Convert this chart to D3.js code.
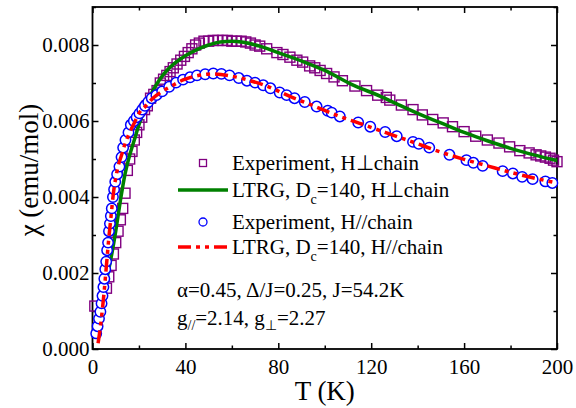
<!DOCTYPE html>
<html><head><meta charset="utf-8">
<script src="https://cdn.jsdelivr.net/npm/d3@7"></script>
<style>
html,body{margin:0;padding:0;background:#fff;}
</style>
</head><body>
<svg id="c" width="576" height="408" font-family="Liberation Serif"></svg>
<script>
// ---------- data ----------
const xTicks = [0, 40, 80, 120, 160, 200];
const xMinor = [20, 60, 100, 140, 180];
const yTicks = [0, 0.002, 0.004, 0.006, 0.008];
const yMinor = [0.001, 0.003, 0.005, 0.007, 0.009];

// Experiment, H⊥chain (squares)
const expPerp = [[1.0,0.00113],[6.0,0.0016],[7.0,0.0019],[8.0,0.0022],[9.0,0.0025],[10.0,0.0028],[11.0,0.0031],[12.0,0.0034],[13.0,0.0037],[14.0,0.0041],[15.0,0.0047],[16.0,0.0050],[17.0,0.0052],[18.0,0.0055],[19.0,0.0057],[20.0,0.0059],[21.2,0.0061],[22.4,0.0063],[23.6,0.0064],[25.0,0.0066],[26.4,0.0067],[27.8,0.0068],[29.2,0.0070],[30.6,0.0071],[32.0,0.0072],[33.4,0.0073],[34.8,0.0074],[36.4,0.0075],[38.0,0.0076],[39.6,0.0077],[41.2,0.0078],[42.8,0.0079],[44.4,0.0080],[46.0,0.00805],[48.0,0.0081],[50.0,0.0081],[52.0,0.00812],[54.0,0.00812],[56.0,0.00812],[58.0,0.00812],[60.0,0.0081],[62.0,0.0081],[64.0,0.0081],[66.0,0.00808],[68.0,0.00805],[70.0,0.0080],[72.0,0.00797],[75.0,0.0079],[79.4,0.0078],[82.0,0.00775],[85.0,0.00768],[88.0,0.0076],[90.5,0.00755],[93.5,0.00745],[95.7,0.0074],[98.0,0.00733],[100.8,0.00725],[104.0,0.00716],[107.6,0.00706],[113.0,0.00692],[118.0,0.0068],[122.8,0.00668],[126.5,0.00662],[128.0,0.00655],[133.0,0.00642],[138.0,0.0063],[142.0,0.00616],[146.5,0.00604],[151.0,0.00595],[155.0,0.00585],[160.0,0.00572],[165.0,0.0056],[170.0,0.0055],[175.0,0.00542],[179.6,0.00532],[184.0,0.00522],[188.0,0.00516],[191.0,0.00511],[193.0,0.00508],[195.0,0.00505],[197.0,0.00502],[198.5,0.00497],[200.0,0.00493]];

// LTRG, Dc=140, H⊥chain (green line)
const fitPerp = [[1,0.0003],[2,0.0006],[4,0.0012],[6,0.0018],[8,0.0024],[10,0.0031],[12,0.0039],[14,0.0046],[16,0.0051],[18,0.0055],[20,0.0059],[23,0.0064],[26,0.0068],[29,0.0071],[32,0.00733],[36,0.00755],[40,0.00772],[45,0.00788],[50,0.0080],[55,0.00808],[60,0.0081],[65,0.00807],[72,0.00797],[80,0.0078],[90,0.00758],[100,0.00733],[112,0.00695],[124,0.00665],[131,0.00645],[140,0.0062],[150,0.00595],[160,0.0057],[170,0.00548],[180,0.00528],[190,0.00511],[200,0.00496]];

// Experiment, H//chain (circles)
const expPar = [[1.6,0.00041],[2.2,0.0006],[2.8,0.0008],[3.4,0.00098],[3.9,0.0012],[4.3,0.0014],[4.7,0.00163],[5.1,0.00185],[5.5,0.0021],[5.9,0.0023],[6.3,0.0026],[6.7,0.0028],[7.1,0.0031],[7.5,0.0033],[7.9,0.0035],[8.3,0.0037],[8.8,0.0040],[9.3,0.0042],[9.8,0.0044],[10.6,0.0046],[11.6,0.0048],[12.5,0.00505],[13.2,0.0053],[14.2,0.0055],[15.5,0.0057],[16.5,0.0059],[17.8,0.0060],[19,0.0061],[20.2,0.0062],[21.4,0.0063],[22.6,0.0064],[24,0.0065],[25.5,0.0066],[27.5,0.00668],[30,0.00678],[33,0.0069],[36,0.00701],[39,0.00709],[42,0.00715],[45,0.0072],[48.5,0.00723],[52,0.00725],[55.5,0.00724],[59,0.0072],[63,0.00713],[66.5,0.00706],[70,0.00701],[73.5,0.00694],[76.6,0.00686],[80.6,0.00675],[83.6,0.00668],[87,0.0066],[91.4,0.0065],[96.5,0.00638],[101.3,0.00627],[103,0.00622],[106.5,0.00612],[114.4,0.00596],[119.6,0.00585],[126,0.00571],[131,0.0056],[138,0.00545],[140.5,0.0054],[145,0.0053],[153.7,0.00511],[161,0.00497],[164,0.0049],[168,0.00482],[176.6,0.00468],[181,0.00462],[185,0.00453],[189.5,0.00447],[195,0.00441],[198,0.00437]];

// LTRG, Dc=140, H//chain (red dash-dot line)
const fitPar = [[2.4,0.00015],[3,0.0004],[4,0.0009],[5,0.0015],[6,0.0022],[7,0.0029],[8,0.0035],[9,0.0041],[10,0.0045],[11,0.0048],[12.5,0.0051],[14,0.0054],[16,0.0057],[18,0.00595],[20,0.0062],[23,0.0064],[26,0.0066],[30,0.00678],[34,0.00692],[39,0.00708],[45,0.00719],[52,0.00724],[60,0.00718],[68,0.00706],[75,0.00692],[86,0.00662],[96,0.00638],[106,0.00613],[115,0.00594],[126,0.0057],[140,0.0054],[150,0.00518],[160,0.00499],[170,0.00482],[180,0.00465],[190,0.0045],[200,0.00437]];

const legendLabels = ["Experiment, H\u22A5chain", "LTRG, D|c|=140, H\u22A5chain", "Experiment, H//chain", "LTRG, D|c|=140, H//chain"];

// ---------- drawing ----------
const FAM = '"Liberation Serif"';
const svg = d3.select("#c");
const L = 92.5, R = 557, T = 7, B = 349;
const x = d3.scaleLinear().domain([0, 200]).range([L, R]);
const y = d3.scaleLinear().domain([0, 0.009]).range([B, T]);

const colPurple = "#800080", colGreen = "#008000", colBlue = "#0000ff", colRed = "#ff0000";
const dashRed = "13,5,4,5,4,5";

function axisG(axis, tr) {
  const g = svg.append("g").attr("transform", tr).call(axis);
  g.attr("font-family", "Liberation Serif").attr("font-size", 21);
  g.select(".domain").remove();
  g.selectAll("line").attr("stroke", "#000").attr("stroke-width", 1.5);
  return g;
}
const fmtY = d3.format(".3f");
axisG(d3.axisBottom(x).tickValues(xTicks).tickSize(-6).tickPadding(10).tickFormat(d3.format("d")), `translate(0,${B})`);
axisG(d3.axisBottom(x).tickValues(xMinor).tickSize(-3.5).tickFormat(""), `translate(0,${B})`);
axisG(d3.axisTop(x).tickValues(xTicks).tickSize(-6).tickFormat(""), `translate(0,${T})`);
axisG(d3.axisTop(x).tickValues(xMinor).tickSize(-3.5).tickFormat(""), `translate(0,${T})`);
axisG(d3.axisLeft(y).tickValues(yTicks).tickSize(-6).tickPadding(3).tickFormat(fmtY), `translate(${L},0)`);
axisG(d3.axisLeft(y).tickValues(yMinor).tickSize(-3.5).tickFormat(""), `translate(${L},0)`);
axisG(d3.axisRight(y).tickValues(yTicks).tickSize(-6).tickFormat(""), `translate(${R},0)`);
axisG(d3.axisRight(y).tickValues(yMinor).tickSize(-3.5).tickFormat(""), `translate(${R},0)`);
svg.selectAll(".tick text").style("font-family", FAM).attr("font-size", 21).attr("fill", "#000");

svg.append("rect").attr("x", L).attr("y", T).attr("width", R - L).attr("height", B - T)
  .attr("fill", "none").attr("stroke", "#000").attr("stroke-width", 1.8);

const line = d3.line().x(d => x(d[0])).y(d => y(d[1])).curve(d3.curveMonotoneX);
const plot = svg.append("g");

plot.selectAll("rect.sq").data(expPerp).join("rect").attr("class", "sq")
  .attr("x", d => x(d[0]) - 5).attr("y", d => y(d[1]) - 5).attr("width", 10).attr("height", 10)
  .attr("fill", "none").attr("stroke", colPurple).attr("stroke-width", 1.4);

plot.append("path").datum(fitPerp).attr("d", line).attr("fill", "none")
  .attr("stroke", colGreen).attr("stroke-width", 3.5);

plot.selectAll("circle.ci").data(expPar).join("circle").attr("class", "ci")
  .attr("cx", d => x(d[0])).attr("cy", d => y(d[1])).attr("r", 5.2)
  .attr("fill", "#fff").attr("stroke", colBlue).attr("stroke-width", 1.5);

plot.append("path").datum(fitPar).attr("d", line).attr("fill", "none")
  .attr("stroke", colRed).attr("stroke-width", 3.5).attr("stroke-dasharray", dashRed);

// legend
const legY = [163, 190, 222, 247];
const leg = svg.append("g");
leg.append("rect").attr("x", 199.5).attr("y", legY[0] - 3.5).attr("width", 7).attr("height", 7)
  .attr("fill", "none").attr("stroke", colPurple).attr("stroke-width", 1.3);
leg.append("line").attr("x1", 178).attr("x2", 228).attr("y1", legY[1]).attr("y2", legY[1])
  .attr("stroke", colGreen).attr("stroke-width", 3.5);
leg.append("circle").attr("cx", 203).attr("cy", legY[2]).attr("r", 4)
  .attr("fill", "none").attr("stroke", colBlue).attr("stroke-width", 1.3);
leg.append("line").attr("x1", 178).attr("x2", 228).attr("y1", legY[3]).attr("y2", legY[3])
  .attr("stroke", colRed).attr("stroke-width", 3.5).attr("stroke-dasharray", dashRed);

function txt(sel, size) { return sel.style("font-family", FAM).attr("font-size", size || 21).attr("fill", "#000"); }

legendLabels.forEach((lab, i) => {
  const t = txt(leg.append("text")).attr("x", 232).attr("y", legY[i] + 7);
  const parts = lab.split("|");
  t.append("tspan").text(parts[0]);
  if (parts.length > 1) {
    t.append("tspan").attr("font-size", 14).attr("dy", 7).text(parts[1]);
    t.append("tspan").attr("dy", -7).text(parts[2]);
  }
});

// annotation
txt(svg.append("text")).attr("x", 177).attr("y", 297).text("\u03B1=0.45, \u0394/J=0.25, J=54.2K");
const g2 = txt(svg.append("text")).attr("x", 177).attr("y", 325);
g2.append("tspan").text("g");
g2.append("tspan").attr("font-size", 14).attr("dy", 5).text("//");
g2.append("tspan").attr("dy", -5).text("=2.14, g");
g2.append("tspan").attr("font-size", 14).attr("dy", 5).text("\u22A5");
g2.append("tspan").attr("dy", -5).text("=2.27");

// axis titles
txt(svg.append("text"), 27).attr("x", (L + R) / 2).attr("y", 400)
  .attr("text-anchor", "middle").text("T (K)");
txt(svg.append("text"), 27)
  .attr("transform", `translate(38,${(T + B) / 2 - 8}) rotate(-90)`)
  .attr("text-anchor", "middle").text("\u03C7 (emu/mol)");
</script>
</body></html>
